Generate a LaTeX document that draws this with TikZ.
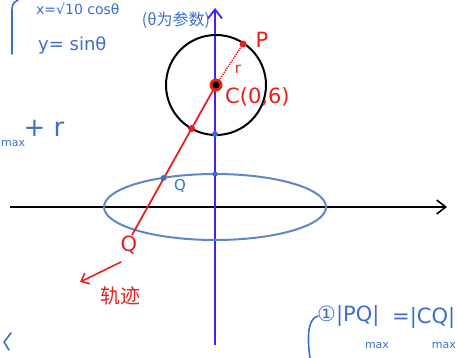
\documentclass[tikz,border=0pt]{standalone}
\usepackage{fontspec}
\setmainfont{DejaVu Sans}
\newfontfamily\cjk{Noto Sans CJK SC}
\usetikzlibrary{arrows.meta}
\definecolor{penblue}{RGB}{60,110,205}
\definecolor{axisblue}{RGB}{70,30,250}
\definecolor{penred}{RGB}{232,32,28}
\definecolor{ellblue}{RGB}{95,135,200}

\tikzset{
  bluetext/.style={text=penblue,inner sep=0pt,font=\fontsize{18}{20}\selectfont},
  redtext/.style={text=penred,inner sep=0pt,font=\fontsize{21}{24}\selectfont},
  subtext/.style={text=penblue,inner sep=0pt,font=\fontsize{11}{12}\selectfont},
  pen/.style={line width=1.6pt,line cap=round,line join=round},
}

\begin{document}
\begin{tikzpicture}[x=1pt,y=-1pt]
\useasboundingbox (0,0) rectangle (457,358);
% axes
\draw[line width=2pt,-{Straight Barb[length=9pt,width=14pt,line width=1.6pt]}] (10,207) -- (447,207);
\draw[axisblue,line width=2.2pt,-{Straight Barb[length=9pt,width=14pt,line width=1.8pt]}] (215,345) -- (215,8);
% circle and ellipse
\coordinate (C) at (216,85);
\coordinate (P) at (243,44);
\coordinate (Q) at (132,235);
\coordinate (M) at (191.6,128.6);
\coordinate (B) at (163.5,178);
\draw[line width=2pt] (C) circle (50);
\draw[ellblue,line width=2pt] (215,207) ellipse (111 and 33);
% line through the centre
\draw[penred,line width=1.8pt] (C) -- (Q);
\draw[penred,line width=1.4pt,densely dotted] (C) -- (P);
\fill[penred] (P) circle (3.5);
\fill[penred] (M) circle (3.5);
\fill[penblue] (B) circle (3);
\fill[penblue] (215,134) circle (3);
\fill[penblue] (215,174) circle (2.5);
\fill[penred] (C) circle (6.5);
\fill[black] (C) circle (3.5);
% labels
\node[redtext] (p) at (262,40) {P};
\node[redtext,font=\fontsize{15}{16}\selectfont] (r) at (238,69) {r};
\node[redtext,anchor=west] (c) at (225,97) {C(0,6)};
\node[redtext] (q) at (129,245) {Q};
\node[bluetext,font=\fontsize{15}{16}\selectfont] (b) at (180,186) {Q};
\coordinate (a1) at (121,262);
\coordinate (a2) at (80,282);
\draw[penred,pen,-{Straight Barb[length=7pt,width=12pt]}] (a1) -- (a2);
\node[redtext,font=\cjk\fontsize{20}{22}\selectfont] (gj) at (120,296) {轨迹};
% parametric equations
\node[bluetext,font=\fontsize{14}{16}\selectfont,anchor=west] (xe) at (36,9) {x=√10 cosθ};
\node[bluetext,anchor=west] (ye) at (38,45) {y= sinθ};
\draw[penblue,pen] (18,0) .. controls (12,4) .. (12,14) -- (12,54);
\node[bluetext,font=\cjk\fontsize{16}{18}\selectfont] (cs) at (176,20) {(θ为参数)};
% left side
\node[bluetext,font=\fontsize{26}{28}\selectfont] (pr) at (44,128) {+ r};
\node[subtext,anchor=west] (mx) at (1,143) {max};
\draw[penblue,pen] (11,333) -- (4,342) -- (9,350);
% bottom right
\draw[penblue,pen] (318,316) .. controls (310,318) and (306,330) .. (310,358);
\node[bluetext,font=\fontsize{21}{24}\selectfont,anchor=west] (eq) at (317,316) {①|PQ|};
\node[subtext] (m1) at (377,345) {max};
\node[bluetext,font=\fontsize{21}{24}\selectfont,anchor=west] (eq2) at (392,318) {=|CQ|};
\node[subtext,anchor=east] (m2) at (456,345) {max};
\end{tikzpicture}
\end{document}
